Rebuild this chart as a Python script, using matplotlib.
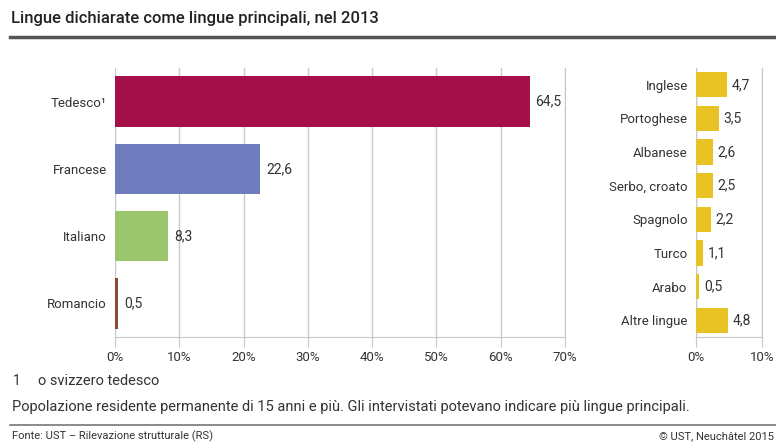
import matplotlib.pyplot as plt

plt.rcParams['font.family'] = ['Roboto', 'DejaVu Sans']

# Lingue nazionali
main_langs = ['Tedesco¹', 'Francese', 'Italiano', 'Romancio']
main_vals = [64.5, 22.6, 8.3, 0.5]
main_colors = ['#A5104B', '#6F7DBE', '#9CC66E', '#8E4B2F']

# Lingue non nazionali
other_langs = ['Inglese', 'Portoghese', 'Albanese', 'Serbo, croato',
               'Spagnolo', 'Turco', 'Arabo', 'Altre lingue']
other_vals = [4.7, 3.5, 2.6, 2.5, 2.2, 1.1, 0.5, 4.8]

main_ticks = [0, 10, 20, 30, 40, 50, 60, 70]
other_ticks = [0, 10]

txt = '#333333'
grid_c = '#c8c8c8'

fig = plt.figure(figsize=(7.76, 4.43), dpi=100)


def style_axes(ax, ticks, n):
    ax.set_xlim(ticks[0], ticks[-1])
    ax.set_ylim(n - 0.5, -0.5)
    ax.set_xticks(ticks)
    ax.set_xticklabels([f'{t}%' for t in ticks])
    for s in ['top', 'left']:
        ax.spines[s].set_visible(False)
    ax.spines['right'].set_color(grid_c)
    ax.spines['bottom'].set_color(grid_c)
    ax.tick_params(axis='x', length=7, color=grid_c, labelsize=9.5,
                   labelcolor=txt, pad=3)
    ax.tick_params(axis='y', length=0, labelsize=9.5, labelcolor=txt, pad=6)
    ax.grid(axis='x', color=grid_c, linewidth=1)
    ax.set_axisbelow(True)


def label_bars(ax, bars, vals, offset):
    for bar, v in zip(bars, vals):
        ax.text(bar.get_width() + offset, bar.get_y() + bar.get_height() / 2,
                f'{v:.1f}'.replace('.', ','), ha='left', va='center',
                fontsize=10, color=txt)


# grafico principale
ax1 = fig.add_axes([0.1482, 0.2393, 0.5799, 0.6072])
b1 = ax1.barh(range(len(main_langs)), main_vals, height=0.75,
              color=main_colors)
ax1.set_yticks(range(len(main_langs)))
ax1.set_yticklabels(main_langs)
style_axes(ax1, main_ticks, len(main_langs))
label_bars(ax1, b1, main_vals, 0.9)

# altre lingue
ax2 = fig.add_axes([0.8969, 0.2393, 0.0851, 0.6072])
b2 = ax2.barh(range(len(other_langs)), other_vals, height=0.75,
              color='#E9C324')
ax2.set_yticks(range(len(other_langs)))
ax2.set_yticklabels(other_langs)
style_axes(ax2, other_ticks, len(other_langs))
ax2.axvline(0, color=grid_c, linewidth=1, zorder=0)
label_bars(ax2, b2, other_vals, 0.7)

# titolo e linee
fig.text(0.014, 0.958, 'Lingue dichiarate come lingue principali, nel 2013',
         fontsize=12, fontweight='medium', color='#222222', va='center')
fig.add_artist(plt.Line2D([0.013, 1.0], [0.917, 0.917], color='#555555',
                          linewidth=2.5))
fig.add_artist(plt.Line2D([0.013, 1.0], [0.040, 0.040], color='#777777',
                          linewidth=1.2))

# note
fig.text(0.016, 0.140, '1', fontsize=10, color=txt, va='center')
fig.text(0.049, 0.140, 'o svizzero tedesco', fontsize=10.5, color=txt,
         va='center')
fig.text(0.016, 0.081,
         'Popolazione residente permanente di 15 anni e più. '
         'Gli intervistati potevano indicare più lingue principali.',
         fontsize=10.5, color=txt, va='center')
fig.text(0.016, 0.016, 'Fonte: UST – Rilevazione strutturale (RS)',
         fontsize=8, color=txt, va='center')
fig.text(0.998, 0.016, '© UST, Neuchâtel 2015', fontsize=8, color=txt,
         va='center', ha='right')

fig.savefig('out.png', dpi=100)
